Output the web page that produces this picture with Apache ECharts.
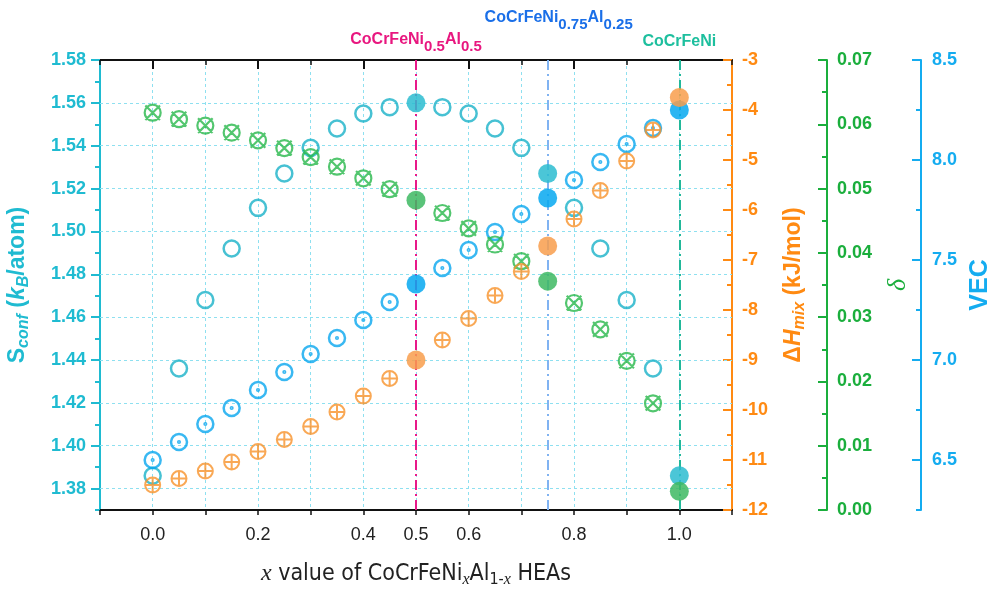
<!DOCTYPE html>
<html><head><meta charset="utf-8">
<script src="https://cdn.jsdelivr.net/npm/echarts@6/dist/echarts.min.js"></script>
<style>html,body{margin:0;padding:0;background:#fff}#c{width:990px;height:591px}</style>
</head><body><div id="c"></div>
<script>
// ---- data ----
const xValues = [0.00,0.05,0.10,0.15,0.20,0.25,0.30,0.35,0.40,0.45,0.50,0.55,0.60,0.65,0.70,0.75,0.80,0.85,0.90,0.95,1.00];
const sconf  = [1.386,1.436,1.468,1.492,1.511,1.527,1.539,1.548,1.555,1.558,1.560,1.558,1.555,1.548,1.539,1.527,1.511,1.492,1.468,1.436,1.386];
const vec    = [6.50,6.59,6.68,6.76,6.85,6.94,7.03,7.11,7.20,7.29,7.38,7.46,7.55,7.64,7.73,7.81,7.90,7.99,8.08,8.16,8.25];
const dHmix  = [-11.50,-11.37,-11.22,-11.04,-10.83,-10.59,-10.33,-10.04,-9.72,-9.37,-9.00,-8.60,-8.17,-7.71,-7.23,-6.72,-6.18,-5.61,-5.02,-4.40,-3.75];
const delta  = [0.0618,0.0608,0.0598,0.0587,0.0575,0.0563,0.0549,0.0534,0.0516,0.0499,0.0482,0.0462,0.0438,0.0413,0.0387,0.0356,0.0322,0.0281,0.0232,0.0166,0.0029];
const highlightX = [0.5, 0.75, 1.0];
const highlightLabels = [
  '{m|CoCrFeNi}{s|0.5}{m|Al}{s|0.5}',
  '{m|CoCrFeNi}{s|0.75}{m|Al}{s|0.25}',
  '{m|CoCrFeNi}'
];
const xLabelValues = [0.0, 0.2, 0.4, 0.5, 0.6, 0.8, 1.0];
const sconfMajorTicks = [1.38,1.40,1.42,1.44,1.46,1.48,1.50,1.52,1.54,1.56,1.58];
const sconfGridLines = [1.38,1.40,1.42,1.44,1.46,1.48,1.50,1.52,1.54,1.56];
const vecMajorTicks = [6.5,7.0,7.5,8.0,8.5];
const xMajorTicks = [0.0,0.2,0.4,0.6,0.8,1.0];

// ---- styles ----
const C_S = '#19B2C8', C_V = '#08A6EF', C_H = '#F7922A', C_D = '#28B84B';
const AX_S = '#1FBBD1', AX_H = '#FF8A12', AX_D = '#1AAE3C', AX_V = '#14ACF0';
const vlineColors = ['#E8198A', '#80B3F2', '#22B89A'];
const vlabelColors = ['#E8177F', '#1A6FE8', '#1DBF9E'];
const vlabelDist = [6, 28, 10];
const vlabelPad = [[0,0,0,0],[0,0,0,22],[0,0,0,0]];
const SANS = "'Liberation Sans', Arial, sans-serif";
const NARROW = "'Liberation Sans Narrow', 'DejaVu Sans Condensed', 'Liberation Sans', sans-serif";
const SERIF = "'Liberation Serif', 'DejaVu Serif', serif";
const GRIDC = '#8EE0F0';

const RING = 'M0,-8A8,8 0 1,1 0,8A8,8 0 1,1 0,-8Z';
const SYM_RING = 'path://' + RING;
const SYM_DOT = 'path://' + RING + 'M0,-0.8A0.8,0.8 0 1,1 0,0.8A0.8,0.8 0 1,1 0,-0.8Z';
const SYM_PLUS = 'path://' + RING + 'M-8,0L8,0M0,-8L0,8';
const SYM_CROSS = 'path://' + RING + 'M-7.3,-7.3L7.3,7.3M7.3,-7.3L-7.3,7.3';

function mkData(vals, fill) {
  return xValues.map((x, i) => highlightX.includes(x)
    ? { value: [x, vals[i]], symbol: 'circle', symbolSize: 19,
        itemStyle: { color: fill, borderWidth: 0, opacity: 0.85 } }
    : [x, vals[i]]);
}

const chart = echarts.init(document.getElementById('c'), null, { renderer: 'canvas' });

const boldLabel = (color) => ({ color, fontSize: 18, fontWeight: 'bold', fontFamily: SANS });

const option = {
  animation: false,
  backgroundColor: '#fff',
  grid: { left: 100, right: 258, top: 60, bottom: 81, containLabel: false, outerBoundsMode: 'none' },
  xAxis: [
    {
      type: 'value', position: 'bottom', min: -0.1, max: 1.1, interval: 0.1,
      axisLine: { show: true, onZero: false, lineStyle: { color: '#111', width: 2 } },
      axisTick: { show: true, length: 5, lineStyle: { color: '#111', width: 1.5 } },
      axisLabel: {
        color: '#222', fontSize: 18, fontFamily: SANS, margin: 16,
        formatter: v => xLabelValues.some(t => Math.abs(t - v) < 1e-6) ? v.toFixed(1) : ''
      },
      splitLine: { show: true, lineStyle: { color: GRIDC, type: [3, 3], width: 1 } },
      name: '{i|x}{n| value of CoCrFeNi}{si|x}{n|Al}{sn|1-}{si|x}{n| HEAs}',
      nameLocation: 'middle', nameGap: 50,
      nameTextStyle: {
        rich: {
          i: { fontFamily: SERIF, fontStyle: 'italic', fontSize: 24, color: '#222' },
          n: { fontFamily: NARROW, fontSize: 23, color: '#222' },
          si: { fontFamily: SERIF, fontStyle: 'italic', fontSize: 16, color: '#222', padding: [12, 0, 0, 0] },
          sn: { fontFamily: NARROW, fontSize: 16, color: '#222', padding: [12, 0, 0, 0] }
        }
      }
    },
    {
      type: 'value', position: 'top', min: -0.1, max: 1.1, interval: 0.1,
      axisLine: { show: true, onZero: false, lineStyle: { color: '#111', width: 2 } },
      axisTick: { show: true, inside: true, length: 5, lineStyle: { color: '#111', width: 1.5 } },
      axisLabel: { show: false }, splitLine: { show: false }
    },
    {
      type: 'value', position: 'top', min: -0.1, max: 1.1,
      axisLine: { show: false, onZero: false },
      axisTick: { show: true, inside: true, length: 9, customValues: xMajorTicks, lineStyle: { color: '#111', width: 2 } },
      axisLabel: { show: false }, splitLine: { show: false }
    }
  ],
  yAxis: [
    { // 0: S_conf
      type: 'value', position: 'left', min: 1.37, max: 1.58, interval: 0.01,
      axisLine: { show: true, onZero: false, lineStyle: { color: AX_S, width: 2 } },
      axisTick: { show: true, length: 5, lineStyle: { color: AX_S, width: 2 } },
      axisLabel: Object.assign(boldLabel(AX_S), {
        margin: 14,
        formatter: v => (Math.round(v * 100) % 2 === 0) ? v.toFixed(2) : ''
      }),
      splitLine: { show: false },
      name: '{b|S}{bs|conf}{b| (}{bi|k}{bis|B}{b|/atom)}',
      nameLocation: 'middle', nameGap: 68, nameRotate: 90,
      nameTextStyle: {
        rich: {
          b: { fontFamily: SANS, fontWeight: 'bold', fontSize: 23, color: AX_S },
          bi: { fontFamily: SANS, fontWeight: 'bold', fontStyle: 'italic', fontSize: 23, color: AX_S },
          bs: { fontFamily: SANS, fontWeight: 'bold', fontStyle: 'italic', fontSize: 16, color: AX_S, padding: [12, 0, 0, 0] },
          bis: { fontFamily: SANS, fontWeight: 'bold', fontStyle: 'italic', fontSize: 16, color: AX_S, padding: [12, 0, 0, 0] }
        }
      }
    },
    { // 1: S_conf major ticks
      type: 'value', position: 'left', min: 1.37, max: 1.58,
      axisLine: { show: false, onZero: false },
      axisTick: { show: true, length: 9, customValues: sconfMajorTicks, lineStyle: { color: AX_S, width: 2 } },
      axisLabel: { show: false }, splitLine: { show: false }
    },
    { // 2: dH_mix
      type: 'value', position: 'right', offset: 0, min: -12, max: -3, interval: 1,
      axisLine: { show: true, onZero: false, lineStyle: { color: AX_H, width: 2 } },
      axisTick: { show: true, inside: true, length: 9, lineStyle: { color: AX_H, width: 2 } },
      minorTick: { show: true, splitNumber: 2, length: 5, lineStyle: { color: AX_H, width: 2 } },
      axisLabel: Object.assign(boldLabel(AX_H), { margin: 10 }),
      splitLine: { show: false },
      name: '{b|Δ}{bi|H}{bs|mix}{b| (kJ/mol)}',
      nameLocation: 'middle', nameGap: 48, nameRotate: 90,
      nameTextStyle: {
        rich: {
          b: { fontFamily: SANS, fontWeight: 'bold', fontSize: 23, color: AX_H },
          bi: { fontFamily: SANS, fontWeight: 'bold', fontStyle: 'italic', fontSize: 23, color: AX_H },
          bs: { fontFamily: SANS, fontWeight: 'bold', fontStyle: 'italic', fontSize: 16, color: AX_H, padding: [12, 0, 0, 0] }
        }
      }
    },
    { // 3: delta
      type: 'value', position: 'right', offset: 95, min: 0, max: 0.07, interval: 0.01,
      axisLine: { show: true, onZero: false, lineStyle: { color: AX_D, width: 2 } },
      axisTick: { show: true, inside: true, length: 9, lineStyle: { color: AX_D, width: 2 } },
      minorTick: { show: true, splitNumber: 2, length: 5, lineStyle: { color: AX_D, width: 2 } },
      axisLabel: Object.assign(boldLabel(AX_D), { margin: 10, formatter: v => v.toFixed(2) }),
      splitLine: { show: false },
      name: 'δ', nameLocation: 'middle', nameGap: 58, nameRotate: 90,
      nameTextStyle: { fontFamily: SERIF, fontStyle: 'italic', fontSize: 26, color: AX_D }
    },
    { // 4: VEC
      type: 'value', position: 'right', offset: 189, min: 6.25, max: 8.5, interval: 0.25,
      axisLine: { show: true, onZero: false, lineStyle: { color: AX_V, width: 2 } },
      axisTick: { show: true, inside: true, length: 5, lineStyle: { color: AX_V, width: 2 } },
      axisLabel: Object.assign(boldLabel(AX_V), {
        margin: 11,
        formatter: v => (Math.abs(v * 2 - Math.round(v * 2)) < 1e-6) ? v.toFixed(1) : ''
      }),
      splitLine: { show: false },
      name: 'VEC', nameLocation: 'middle', nameGap: 44, nameRotate: 90,
      nameTextStyle: { fontFamily: SANS, fontWeight: 'bold', fontSize: 25, color: AX_V }
    },
    { // 5: VEC major ticks
      type: 'value', position: 'right', offset: 189, min: 6.25, max: 8.5,
      axisLine: { show: false, onZero: false },
      axisTick: { show: true, inside: true, length: 9, customValues: vecMajorTicks, lineStyle: { color: AX_V, width: 2 } },
      axisLabel: { show: false }, splitLine: { show: false }
    }
  ],
  series: [
    { // horizontal grid lines
      type: 'scatter', xAxisIndex: 0, yAxisIndex: 0, data: [], z: 1, silent: true,
      markLine: {
        silent: true, symbol: ['none', 'none'], z: 1, animation: false,
        label: { show: false },
        lineStyle: { color: GRIDC, type: [3, 3], width: 1 },
        data: sconfGridLines.map(v => ({ yAxis: v }))
      }
    },
    { // vertical composition lines
      type: 'scatter', xAxisIndex: 0, yAxisIndex: 0, data: [], z: 2, silent: true,
      markLine: {
        silent: true, symbol: ['none', 'none'], z: 2, animation: false,
        data: highlightX.map((x, i) => ({
          xAxis: x,
          lineStyle: { color: vlineColors[i], type: [10, 4, 2, 4], width: 2 },
          label: {
            show: true, position: 'end', distance: vlabelDist[i],
            formatter: highlightLabels[i], padding: vlabelPad[i],
            rich: {
              m: { fontFamily: SANS, fontWeight: 'bold', fontSize: 16, color: vlabelColors[i] },
              s: { fontFamily: SANS, fontWeight: 'bold', fontSize: 15, color: vlabelColors[i], padding: [13, 0, 0, 0] }
            }
          }
        }))
      }
    },
    {
      name: 'Sconf', type: 'scatter', xAxisIndex: 0, yAxisIndex: 0, z: 10,
      symbol: SYM_RING, symbolSize: 16,
      itemStyle: { color: 'transparent', borderColor: C_S, borderWidth: 2.5 },
      data: mkData(sconf, '#2BBCD0')
    },
    {
      name: 'VEC', type: 'scatter', xAxisIndex: 0, yAxisIndex: 4, z: 11,
      symbol: SYM_DOT, symbolSize: 16,
      itemStyle: { color: 'transparent', borderColor: C_V, borderWidth: 2.5 },
      data: mkData(vec, '#06A8F0')
    },
    {
      name: 'delta', type: 'scatter', xAxisIndex: 0, yAxisIndex: 3, z: 12,
      symbol: SYM_CROSS, symbolSize: 16,
      itemStyle: { color: 'transparent', borderColor: C_D, borderWidth: 2.2 },
      data: mkData(delta, '#3DB862')
    },
    {
      name: 'dHmix', type: 'scatter', xAxisIndex: 0, yAxisIndex: 2, z: 13,
      symbol: SYM_PLUS, symbolSize: 15,
      itemStyle: { color: 'transparent', borderColor: C_H, borderWidth: 2 },
      data: mkData(dHmix, '#F89E4C')
    }
  ]
};
chart.setOption(option);
</script>
</body></html>
